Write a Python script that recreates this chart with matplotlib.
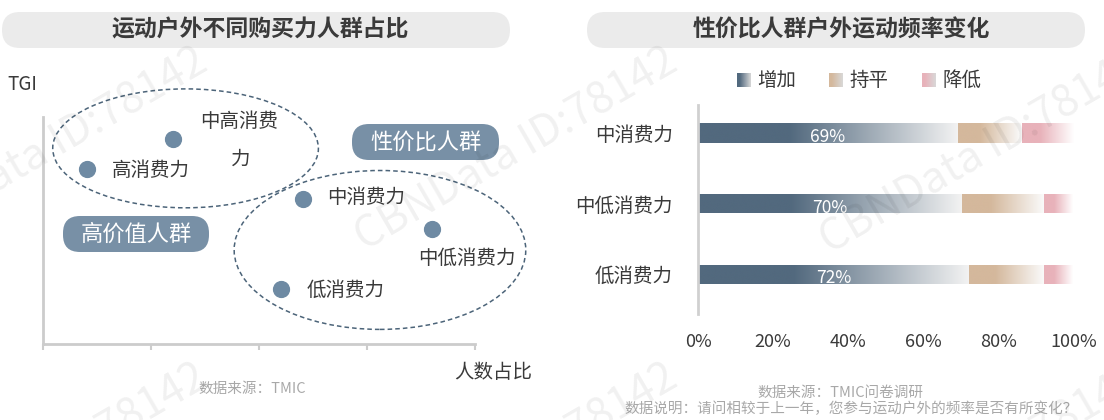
import numpy as np
import matplotlib
matplotlib.use("Agg")
import matplotlib.pyplot as plt
from matplotlib.patches import Ellipse, FancyBboxPatch
from matplotlib.colors import to_rgb

plt.rcParams['font.family'] = ['Noto Sans CJK SC', 'DejaVu Sans']

# ---- 数据 ----
# 左图：人数占比 (x) 与 TGI (y)，无刻度数值，按图中位置估算
groups = ['高消费力', '中高消费力', '中消费力', '中低消费力', '低消费力']
share = [0.41, 1.20, 2.41, 3.60, 2.20]
tgi = [1.62, 1.90, 1.34, 1.06, 0.51]

# 右图：性价比人群户外运动频率变化 (%)
segments = ['中消费力', '中低消费力', '低消费力']
increase = [69, 70, 72]
flat = [17, 22, 20]
decrease = [14, 8, 8]
legend_names = ['增加', '持平', '降低']

W, H = 1104, 420
fig = plt.figure(figsize=(W / 100, H / 100), dpi=100)
fig.patch.set_facecolor('white')

TXT = '#3a3a3a'
GRAY = '#a8a8a8'
AXC = '#cccccc'
PILL = '#7890a6'
DOT = '#6e8aa3'
C_INC = '#52697e'
C_FLAT = '#d4b89c'
C_DEC = '#e8b2ba'


def ax_px(left, top, right, bottom):
    # 像素坐标（左上为原点）转换为 add_axes 的位置
    return [left / W, 1 - bottom / H, (right - left) / W, (bottom - top) / H]


# 背景层：标题胶囊、注释文字
bg = fig.add_axes([0, 0, 1, 1], zorder=0)
bg.set_xlim(0, W)
bg.set_ylim(H, 0)
bg.axis('off')

for x0, x1, title, cx in [(2, 510, '运动户外不同购买力人群占比', 260),
                          (587, 1085, '性价比人群户外运动频率变化', 841)]:
    bg.add_patch(FancyBboxPatch((x0, 12), x1 - x0, 36,
                                boxstyle='round,pad=0,rounding_size=18',
                                fc='#ebebeb', ec='none'))
    bg.text(cx, 30, title, ha='center', va='center', fontsize=16.5,
            fontweight='bold', color=TXT)

bg.text(7, 85, 'TGI', ha='left', va='center', fontsize=13.5, color=TXT)
bg.text(532, 373, '人数占比', ha='right', va='center', fontsize=14, color=TXT)
bg.text(252, 389, '数据来源：TMIC', ha='center', va='center', fontsize=10.5, color=GRAY)
bg.text(840, 393, '数据来源：TMIC问卷调研', ha='center', va='center', fontsize=10.5, color=GRAY)
bg.text(851, 409, '数据说明：请问相较于上一年，您参与运动户外的频率是否有所变化？',
        ha='center', va='center', fontsize=10.5, color=GRAY)

# 人群标签胶囊
for txt, x0, y0, x1, y1 in [('性价比人群', 352, 124, 499, 160), ('高价值人群', 63, 216, 209, 252)]:
    bg.add_patch(FancyBboxPatch((x0, y0), x1 - x0, y1 - y0,
                                boxstyle='round,pad=0,rounding_size=17',
                                fc=PILL, ec='none', zorder=4))
    bg.text((x0 + x1) / 2, (y0 + y1) / 2, txt, ha='center', va='center',
            fontsize=16, color='white', zorder=5)

# ---- 左图：散点 ----
ax1 = fig.add_axes(ax_px(43, 117, 475, 344), zorder=2)
ax1.set_xlim(0, 4)
ax1.set_ylim(0, 2.1)
ax1.patch.set_alpha(0)
for s in ['top', 'right']:
    ax1.spines[s].set_visible(False)
for s in ['left', 'bottom']:
    ax1.spines[s].set_color(AXC)
    ax1.spines[s].set_linewidth(2)
ax1.set_xticks([0, 1, 2, 3, 4])
ax1.set_xticklabels([])
ax1.set_yticks([])
ax1.tick_params(axis='x', length=4, width=1.5, color=AXC, direction='out')

ax1.scatter(share, tgi, s=130, color=DOT, zorder=3, clip_on=False)

label_offsets = {
    '高消费力': (18, -1, 'left'),
    '中消费力': (17, 1, 'left'),
    '中低消费力': (-10, -21, 'left'),
    '低消费力': (19, -1, 'left'),
}
for name, x, y in zip(groups, share, tgi):
    if name == '中高消费力':
        ax1.annotate('中高消费', (x, y), xytext=(20, 12), textcoords='offset points',
                     ha='left', va='center', fontsize=14, color=TXT)
        ax1.annotate('力', (x, y), xytext=(49, -15), textcoords='offset points',
                     ha='center', va='center', fontsize=14, color=TXT)
    else:
        dx, dy, ha = label_offsets[name]
        ax1.annotate(name, (x, y), xytext=(dx, dy), textcoords='offset points',
                     ha=ha, va='center', fontsize=14, color=TXT)

for (cx, cy, w, h) in [(1.32, 1.81, 2.46, 1.10), (3.12, 0.87, 2.70, 1.47)]:
    ax1.add_patch(Ellipse((cx, cy), w, h, fill=False, ec='#4c6479', lw=1.1,
                          ls=(0, (3, 2)), clip_on=False, zorder=2))

# ---- 右图：渐变堆积条形 ----
ax2 = fig.add_axes(ax_px(698, 105, 1074, 314), zorder=2)
ypos = np.arange(len(segments))
bar_h = 0.27


def gradient(color, end=0.97, solid=0.35, n=256):
    c = np.array(to_rgb(color))
    w = np.ones(3) * end
    t = np.linspace(0, 1, n)
    f = np.clip((t - solid) / (1 - solid), 0, 1)
    return (c[None, :] * (1 - f[:, None]) + w[None, :] * f[:, None])[None, :, :]


left = np.zeros(len(segments))
for vals, col, end in [(increase, C_INC, 0.95), (flat, C_FLAT, 0.98), (decrease, C_DEC, 1.0)]:
    bars = ax2.barh(ypos, vals, left=left, height=bar_h, color='none', ec='none')
    for b in bars:
        x0, y0 = b.get_x(), b.get_y()
        im = ax2.imshow(gradient(col, end=end), aspect='auto',
                        extent=(x0 + 0.15, x0 + b.get_width() - 0.15, y0 + b.get_height(), y0),
                        interpolation='bicubic', zorder=2)
        im.set_clip_path(b)
    left = left + np.array(vals)

for y, v in zip(ypos, increase):
    ax2.annotate(f'{v}%', (v / 2, y), xytext=(0, -3), textcoords='offset points',
                 ha='center', va='center', fontsize=12.5, color='white', zorder=4)

ax2.set_xlim(0, 100)
ax2.set_ylim(2.567, -0.397)
ax2.set_xticks([0, 20, 40, 60, 80, 100])
ax2.set_xticklabels([f'{t}%' for t in range(0, 101, 20)])
ax2.set_yticks(ypos)
ax2.set_yticklabels(segments)
ax2.tick_params(axis='x', length=0, pad=14, labelsize=13, labelcolor=TXT)
ax2.tick_params(axis='y', length=0, pad=18, labelsize=14, labelcolor=TXT)
for s in ['top', 'right', 'bottom']:
    ax2.spines[s].set_visible(False)
ax2.spines['left'].set_color('#d0d0d0')
ax2.spines['left'].set_linewidth(2)
ax2.patch.set_alpha(0)

# 图例（渐变小方块）
for name, col, sx, tx in [('增加', C_INC, 737, 757), ('持平', C_FLAT, 829, 849),
                          ('降低', C_DEC, 922, 942)]:
    lax = fig.add_axes(ax_px(sx, 73, sx + 14, 87), zorder=2)
    lax.imshow(gradient(col, end=0.85, solid=0.2), aspect='auto', interpolation='bicubic')
    lax.axis('off')
    bg.text(tx, 80, name, ha='left', va='center', fontsize=14, color=TXT)

# 水印
wm = fig.add_axes([0, 0, 1, 1], zorder=10)
wm.set_xlim(0, W)
wm.set_ylim(H, 0)
wm.axis('off')
for sx, sy in [(-105, 252), (365, 252), (830, 255), (-105, 568), (365, 568), (830, 570)]:
    wm.text(sx, sy, 'CBNData ID:78142', rotation=30, rotation_mode='anchor',
            ha='left', va='baseline', fontsize=31, color=(0, 0, 0, 0.06),
            clip_on=True)

fig.savefig('out.png', dpi=100, facecolor='white')
